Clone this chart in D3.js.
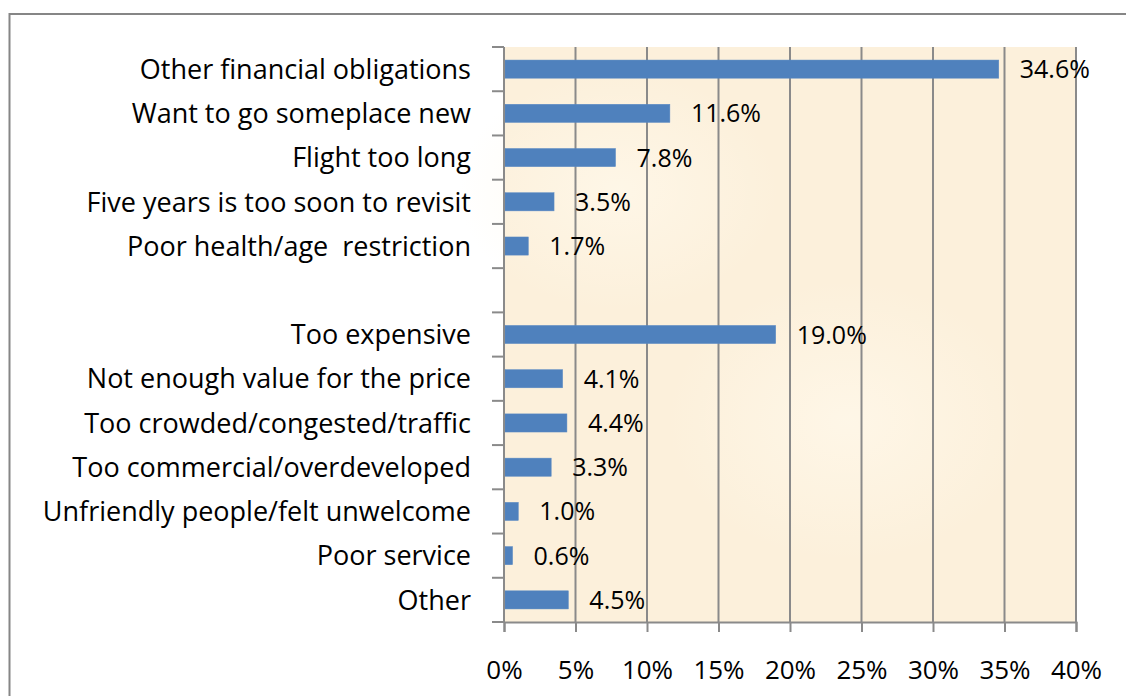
<!DOCTYPE html>
<html>
<head>
<meta charset="utf-8">
<script src="https://cdn.jsdelivr.net/npm/d3@7"></script>
<style>
  html, body { margin: 0; padding: 0; background: #fff; }
  svg { display: block; }
  text { font-family: "Open Sans", Lato, sans-serif; fill: #000; }
</style>
</head>
<body>
<div id="graph"></div>
<script>
// reasons for not returning, share of respondents (%)
var categories = [
    "Other financial obligations",
    "Want to go someplace new",
    "Flight too long",
    "Five years is too soon to revisit",
    "Poor health/age  restriction",
    "",
    "Too expensive",
    "Not enough value for the price",
    "Too crowded/congested/traffic",
    "Too commercial/overdeveloped",
    "Unfriendly people/felt unwelcome",
    "Poor service",
    "Other"
]
var values = [34.6, 11.6, 7.8, 3.5, 1.7, null, 19.0, 4.1, 4.4, 3.3, 1.0, 0.6, 4.5]
var xTicks = [0, 5, 10, 15, 20, 25, 30, 35, 40]

var width = 1126, height = 696
var margin = {top: 47, left: 504, bottom: 74, right: 50}
var chartWidth = width - margin.left - margin.right
var chartHeight = height - margin.top - margin.bottom

var rows = categories.map(function(c, i) { return {key: "r" + i, label: c, value: values[i]} })

var svg = d3.select("#graph").append("svg")
    .attr("width", width)
    .attr("height", height)

// outer chart border
svg.append("rect")
    .attr("x", 9.5).attr("y", 14)
    .attr("width", width + 20).attr("height", height + 20)
    .attr("fill", "#fff")
    .attr("stroke", "#868686")
    .attr("stroke-width", 2)

var defs = svg.append("defs")
var blot = defs.append("radialGradient").attr("id", "blot")
blot.append("stop").attr("offset", "0%").attr("stop-color", "#fff8ea").attr("stop-opacity", 0.8)
blot.append("stop").attr("offset", "100%").attr("stop-color", "#fff8ea").attr("stop-opacity", 0)

var chartLayer = svg.append("g")
    .attr("transform", "translate(" + [margin.left, margin.top] + ")")

var x = d3.scaleLinear().domain([0, 40]).range([0, chartWidth])
var y = d3.scaleBand().domain(rows.map(function(d) { return d.key })).range([0, chartHeight])
    .paddingInner(0.59).paddingOuter(0.295)
var yTicks = d3.scaleBand().domain(rows.map(function(d) { return d.key })).range([0, chartHeight])

// parchment background
chartLayer.append("rect")
    .attr("width", chartWidth).attr("height", chartHeight)
    .attr("fill", "#fcf0db")
chartLayer.append("ellipse")
    .attr("cx", chartWidth * 0.2).attr("cy", chartHeight * 0.25)
    .attr("rx", 160).attr("ry", 120).attr("fill", "url(#blot)")
chartLayer.append("ellipse")
    .attr("cx", chartWidth * 0.6).attr("cy", chartHeight * 0.65)
    .attr("rx", 180).attr("ry", 140).attr("fill", "url(#blot)")

// vertical gridlines
chartLayer.append("g")
    .selectAll("line")
    .data(xTicks.slice(1))
    .enter().append("line")
    .attr("x1", function(d) { return x(d) }).attr("x2", function(d) { return x(d) })
    .attr("y1", 0).attr("y2", chartHeight)
    .attr("stroke", "#8a8a8a")
    .attr("stroke-width", 2)

// bars
chartLayer.append("g")
    .selectAll("rect")
    .data(rows.filter(function(d) { return d.value != null }))
    .enter().append("rect")
    .attr("x", x(0) + 1)
    .attr("y", function(d) { return y(d.key) })
    .attr("width", function(d) { return x(d.value) - x(0) - 1 })
    .attr("height", y.bandwidth())
    .attr("fill", "#4f81bd")
    .attr("stroke", "#5b8ac4")
    .attr("stroke-width", 0.5)

// value labels
chartLayer.append("g")
    .selectAll("text")
    .data(rows.filter(function(d) { return d.value != null }))
    .enter().append("text")
    .attr("x", function(d) { return x(d.value) + 21 })
    .attr("y", function(d) { return y(d.key) + y.bandwidth() / 2 })
    .attr("dy", "0.36em")
    .attr("font-size", "25px")
    .text(function(d) { return d.value.toFixed(1) + "%" })

// category axis
var yAxis = chartLayer.append("g")
    .call(d3.axisLeft(yTicks).tickSize(12).tickFormat(function(k) {
        return rows.find(function(d) { return d.key == k }).label
    }))
yAxis.select(".domain").remove()
yAxis.selectAll(".tick line").remove()
yAxis.selectAll(".tick text")
    .attr("x", -33)
    .attr("dy", "0.36em")
    .attr("font-size", "27px")
    .attr("font-family", null)
    .style("white-space", "pre")
// tick marks sit on band boundaries
chartLayer.append("g")
    .selectAll("line")
    .data(d3.range(rows.length + 1))
    .enter().append("line")
    .attr("x1", -12).attr("x2", 0)
    .attr("y1", function(i) { return i * yTicks.step() })
    .attr("y2", function(i) { return i * yTicks.step() })
    .attr("stroke", "#8a8a8a")
    .attr("stroke-width", 2)
chartLayer.append("line")
    .attr("x1", 0).attr("x2", 0).attr("y1", 0).attr("y2", chartHeight)
    .attr("stroke", "#8a8a8a").attr("stroke-width", 2)

// value axis
var xAxis = chartLayer.append("g")
    .attr("transform", "translate(0," + chartHeight + ")")
    .call(d3.axisBottom(x).tickValues(xTicks).tickSize(10)
        .tickFormat(function(d) { return d + "%" }))
xAxis.select(".domain").attr("stroke", "#8a8a8a").attr("stroke-width", 2)
xAxis.selectAll(".tick line").attr("stroke", "#8a8a8a").attr("stroke-width", 2)
xAxis.selectAll(".tick text")
    .attr("y", 57)
    .attr("dy", 0)
    .attr("font-size", "26px")
    .attr("font-family", null)
</script>
</body>
</html>
